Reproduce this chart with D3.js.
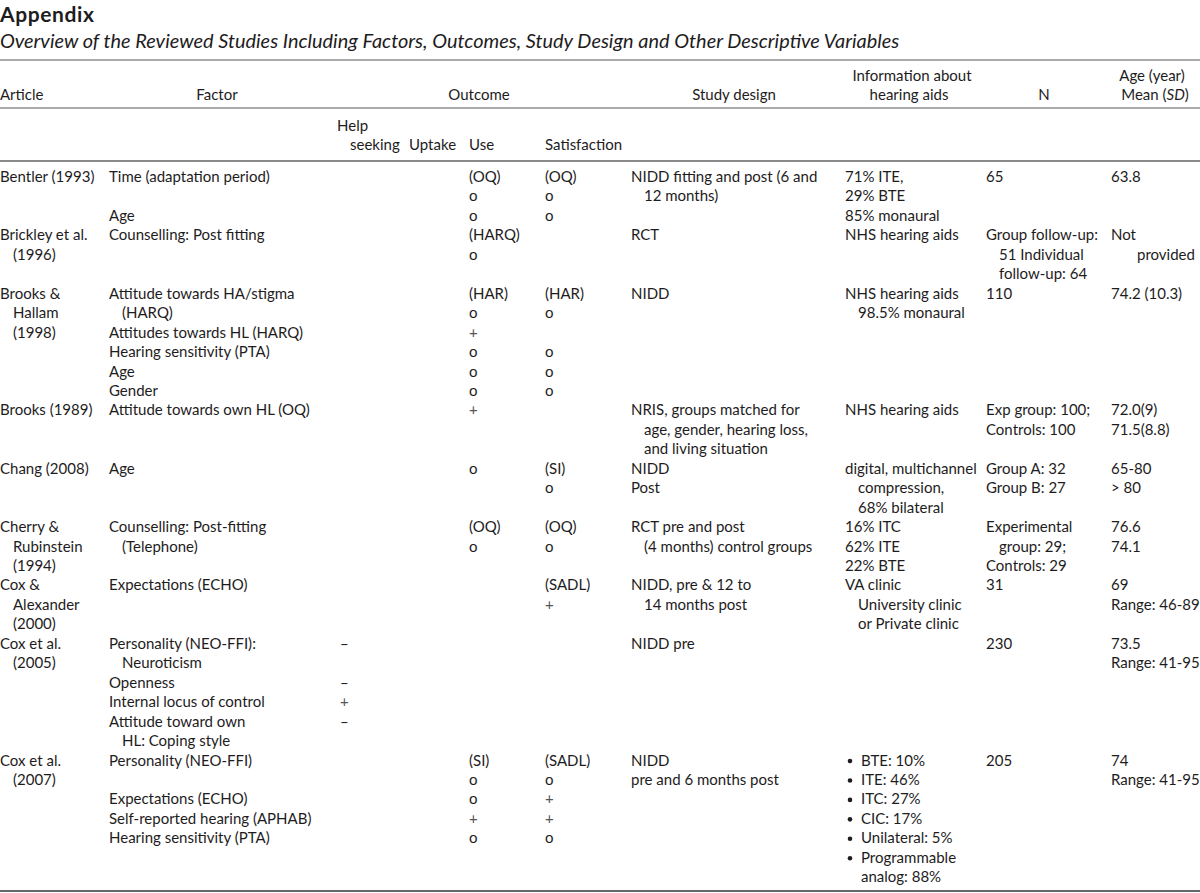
<!DOCTYPE html>
<html>
<head>
<meta charset="utf-8">
<script src="https://cdn.jsdelivr.net/npm/d3@7"></script>
<style>
  html, body { margin: 0; padding: 0; background: #fff; }
  svg { display: block; }
</style>
</head>
<body>
<div id="chart"></div>
<script>
// ---------------- DATA ----------------
const title = "Appendix";
const subtitle = "Overview of the Reviewed Studies Including Factors, Outcomes, Study Design and Other Descriptive Variables";

const columns = ["article", "factor", "help", "uptake", "use", "satisfaction", "design", "info", "n", "age"];

// header labels
const headerTop = [
  ["Article", "article"], ["Factor", "factor"], ["Outcome", "outcome"], ["Study design", "design"],
  ["hearing aids", "info"], ["N", "n"]
];
const headerSub = [["Help", "help", 0], ["seeking", "help", 1], ["Uptake", "uptake", 1], ["Use", "use", 1], ["Satisfaction", "satisfaction", 1]];

// cells: [line, text, indentLevel]  (indent "b" = bullet item, "c" = bullet continuation)
const articleCells = [
  [0, "Bentler (1993)"],
  [3, "Brickley et al."], [4, "(1996)", 1],
  [6, "Brooks &"], [7, "Hallam", 1], [8, "(1998)", 1],
  [12, "Brooks (1989)"],
  [15, "Chang (2008)"],
  [18, "Cherry &"], [19, "Rubinstein", 1], [20, "(1994)", 1],
  [21, "Cox &"], [22, "Alexander", 1], [23, "(2000)", 1],
  [24, "Cox et al."], [25, "(2005)", 1],
  [30, "Cox et al."], [31, "(2007)", 1]
];
const factorCells = [
  [0, "Time (adaptation period)"], [2, "Age"],
  [3, "Counselling: Post fitting"],
  [6, "Attitude towards HA/stigma"], [7, "(HARQ)", 1], [8, "Attitudes towards HL (HARQ)"],
  [9, "Hearing sensitivity (PTA)"], [10, "Age"], [11, "Gender"],
  [12, "Attitude towards own HL (OQ)"],
  [15, "Age"],
  [18, "Counselling: Post-fitting"], [19, "(Telephone)", 1],
  [21, "Expectations (ECHO)"],
  [24, "Personality (NEO-FFI):"], [25, "Neuroticism", 1], [26, "Openness"],
  [27, "Internal locus of control"], [28, "Attitude toward own"], [29, "HL: Coping style", 1],
  [30, "Personality (NEO-FFI)"], [32, "Expectations (ECHO)"],
  [33, "Self-reported hearing (APHAB)"], [34, "Hearing sensitivity (PTA)"]
];
const helpCells = [[24, "–"], [26, "–"], [27, "+"], [28, "–"]];
const uptakeCells = [];
const useCells = [
  [0, "(OQ)"], [1, "o"], [2, "o"], [3, "(HARQ)"], [4, "o"],
  [6, "(HAR)"], [7, "o"], [8, "+"], [9, "o"], [10, "o"], [11, "o"],
  [12, "+"], [15, "o"], [18, "(OQ)"], [19, "o"],
  [30, "(SI)"], [31, "o"], [32, "o"], [33, "+"], [34, "o"]
];
const satisfactionCells = [
  [0, "(OQ)"], [1, "o"], [2, "o"],
  [6, "(HAR)"], [7, "o"], [9, "o"], [10, "o"], [11, "o"],
  [15, "(SI)"], [16, "o"], [18, "(OQ)"], [19, "o"],
  [21, "(SADL)"], [22, "+"],
  [30, "(SADL)"], [31, "o"], [32, "+"], [33, "+"], [34, "o"]
];
const designCells = [
  [0, "NIDD fitting and post (6 and"], [1, "12 months)", 1],
  [3, "RCT"], [6, "NIDD"],
  [12, "NRIS, groups matched for"], [13, "age, gender, hearing loss,", 1], [14, "and living situation", 1],
  [15, "NIDD"], [16, "Post"],
  [18, "RCT pre and post"], [19, "(4 months) control groups", 1],
  [21, "NIDD, pre & 12 to"], [22, "14 months post", 1],
  [24, "NIDD pre"],
  [30, "NIDD"], [31, "pre and 6 months post"]
];
const infoCells = [
  [0, "71% ITE,"], [1, "29% BTE"], [2, "85% monaural"],
  [3, "NHS hearing aids"],
  [6, "NHS hearing aids"], [7, "98.5% monaural", 1],
  [12, "NHS hearing aids"],
  [15, "digital, multichannel"], [16, "compression,", 1], [17, "68% bilateral", 1],
  [18, "16% ITC"], [19, "62% ITE"], [20, "22% BTE"],
  [21, "VA clinic"], [22, "University clinic", 1], [23, "or Private clinic", 1],
  [30, "BTE: 10%", "b"], [31, "ITE: 46%", "b"], [32, "ITC: 27%", "b"], [33, "CIC: 17%", "b"],
  [34, "Unilateral: 5%", "b"], [35, "Programmable", "b"], [36, "analog: 88%", "c"]
];
const nCells = [
  [0, "65"],
  [3, "Group follow-up:"], [4, "51 Individual", 1], [5, "follow-up: 64", 1],
  [6, "110"],
  [12, "Exp group: 100;"], [13, "Controls: 100"],
  [15, "Group A: 32"], [16, "Group B: 27"],
  [18, "Experimental"], [19, "group: 29;", 1], [20, "Controls: 29"],
  [21, "31"], [24, "230"], [30, "205"]
];
const ageCells = [
  [0, "63.8"], [3, "Not"], [4, "provided", 2],
  [6, "74.2 (10.3)"],
  [12, "72.0(9)"], [13, "71.5(8.8)"],
  [15, "65-80"], [16, "> 80"],
  [18, "76.6"], [19, "74.1"],
  [21, "69"], [22, "Range: 46-89"],
  [24, "73.5"], [25, "Range: 41-95"],
  [30, "74"], [31, "Range: 41-95"]
];
const cellsByColumn = {
  article: articleCells, factor: factorCells, help: helpCells, uptake: uptakeCells,
  use: useCells, satisfaction: satisfactionCells, design: designCells,
  info: infoCells, n: nCells, age: ageCells
};
const lineCount = 37;

// ---------------- LAYOUT ----------------
const W = 1200, H = 893;
const FONT = "Lato, 'Open Sans', 'DejaVu Sans', sans-serif";
const ink = "#1e1c1d";
const bodySize = 15;

const x = d3.scaleOrdinal()
  .domain(columns)
  .range([0, 109, 340, 409, 469, 545, 631, 845, 986, 1111]);
const headerCenter = { article: null, factor: 217, outcome: 479, design: 734, info: 909, n: 1044 };
const subHeaderX = { Help: 337, seeking: 350, Uptake: 409, Use: 469, Satisfaction: 545 };

const y = d3.scaleLinear().domain([0, lineCount - 1]).range([182, 182 + 36 * 19.45]);
const indentStep = 13;

const svg = d3.select("#chart").append("svg").attr("width", W).attr("height", H);
svg.append("rect").attr("width", W).attr("height", H).attr("fill", "#fff");

// font fitting helper (for the long italic subtitle line)
function fitSize(text, target, weight, style) {
  const t = svg.append("text").attr("font-family", FONT).attr("font-size", 100)
    .attr("font-weight", weight || "normal").attr("font-style", style || "normal").text(text);
  const w = t.node().getComputedTextLength();
  t.remove();
  return 100 * target / w;
}
const subSize = fitSize(subtitle, 900, "normal", "italic");

// title
svg.append("text").attr("x", 0).attr("y", 21.5).attr("font-family", FONT)
  .attr("font-weight", "bold").attr("font-size", 21).attr("letter-spacing", 0.6)
  .attr("fill", ink).text(title);
svg.append("text").attr("x", 0).attr("y", 47.5).attr("font-family", FONT)
  .attr("font-style", "italic").attr("font-size", subSize).attr("fill", ink).text(subtitle);

// rules
const rules = [[60, 1, "#555"], [108, 1, "#555"], [161, 2, "#8a8a8a"], [891, 1.6, "#333"]];
svg.selectAll("line.rule").data(rules).join("line").attr("class", "rule")
  .attr("x1", 0).attr("x2", W).attr("y1", d => d[0]).attr("y2", d => d[0])
  .attr("stroke", d => d[2]).attr("stroke-width", d => d[1]);

// headers
const hdr = svg.append("g").attr("font-family", FONT).attr("font-size", bodySize).attr("fill", ink);
headerTop.forEach(([label, key]) => {
  const c = headerCenter[key];
  hdr.append("text").attr("y", 100)
    .attr("x", c == null ? 0 : c).attr("text-anchor", c == null ? "start" : "middle").text(label);
});
hdr.append("text").attr("x", 912).attr("y", 81).attr("text-anchor", "middle").text("Information about");
hdr.append("text").attr("x", 1152).attr("y", 81).attr("text-anchor", "middle").text("Age (year)");
const meanT = hdr.append("text").attr("x", 1155).attr("y", 100).attr("text-anchor", "middle");
meanT.append("tspan").text("Mean (");
meanT.append("tspan").attr("font-style", "italic").text("SD");
meanT.append("tspan").text(")");
headerSub.forEach(([label, key, row]) => {
  hdr.append("text").attr("x", subHeaderX[label])
    .attr("y", row === 0 ? 131 : 150).text(label);
});

// body cells
const body = svg.append("g").attr("font-family", FONT).attr("font-size", bodySize).attr("fill", ink);
columns.forEach(col => {
  const cells = cellsByColumn[col];
  const g = body.append("g").attr("class", "col-" + col);
  g.selectAll("text").data(cells).join("text")
    .attr("x", d => {
      const lvl = d[2];
      if (lvl === "b" || lvl === "c") return x(col) + 16;
      return x(col) + (lvl ? lvl * indentStep : 0);
    })
    .attr("y", d => y(d[0]))
    .attr("fill", d => (d[1] === "+" ? "#555" : ink))
    .text(d => d[1]);
  g.selectAll("circle").data(cells.filter(d => d[2] === "b")).join("circle")
    .attr("cx", x(col) + 5).attr("cy", d => y(d[0]) - 4.5).attr("r", 2.3).attr("fill", ink);
});
</script>
</body>
</html>
